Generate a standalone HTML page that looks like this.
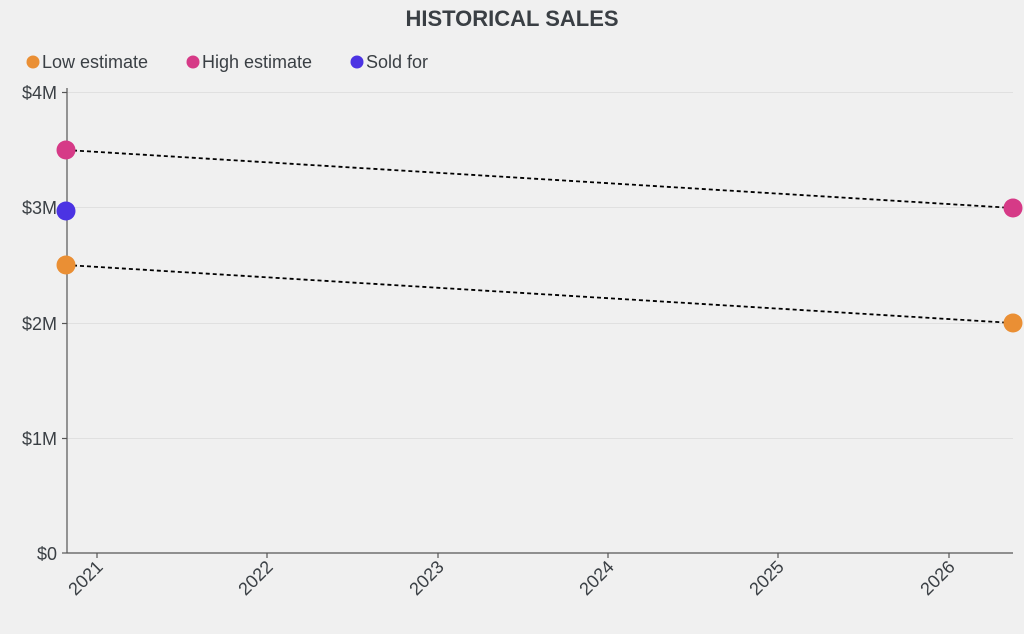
<!DOCTYPE html>
<html><head><style>
body{margin:0;background:#f0f0f0;}
svg{display:block;font-family:"Liberation Sans",sans-serif;}
</style></head><body>
<svg width="1024" height="634" viewBox="0 0 1024 634">
<rect width="1024" height="634" fill="#f0f0f0"/>
<text x="512" y="26" text-anchor="middle" font-size="22" font-weight="bold" fill="#3a3f44">HISTORICAL SALES</text>
<g font-size="18" fill="#3a3f44">
<circle cx="33" cy="62" r="6.5" fill="#ea8f34"/><text x="42" y="68">Low estimate</text>
<circle cx="193" cy="62" r="6.5" fill="#d63a87"/><text x="202" y="68">High estimate</text>
<circle cx="357" cy="62" r="6.5" fill="#4b33e3"/><text x="366" y="68">Sold for</text>
</g>
<g stroke="#e0e0e0" stroke-width="1">
<line x1="67" y1="92.5" x2="1013" y2="92.5"/>
<line x1="67" y1="207.5" x2="1013" y2="207.5"/>
<line x1="67" y1="323.5" x2="1013" y2="323.5"/>
<line x1="67" y1="438.5" x2="1013" y2="438.5"/>
</g>
<g stroke="#555" stroke-width="1.2">
<line x1="67" y1="88" x2="67" y2="553"/>
<line x1="67" y1="553" x2="1013" y2="553"/>
<line x1="62" y1="92.5" x2="67" y2="92.5"/>
<line x1="62" y1="207.5" x2="67" y2="207.5"/>
<line x1="62" y1="323.5" x2="67" y2="323.5"/>
<line x1="62" y1="438.5" x2="67" y2="438.5"/>
<line x1="62" y1="553" x2="67" y2="553"/>
<line x1="97" y1="553" x2="97" y2="558"/>
<line x1="267" y1="553" x2="267" y2="558"/>
<line x1="438" y1="553" x2="438" y2="558"/>
<line x1="608" y1="553" x2="608" y2="558"/>
<line x1="778" y1="553" x2="778" y2="558"/>
<line x1="949" y1="553" x2="949" y2="558"/>
</g>
<g font-size="18" fill="#3a3f44" text-anchor="end">
<text x="57" y="99">$4M</text>
<text x="57" y="214">$3M</text>
<text x="57" y="330">$2M</text>
<text x="57" y="445">$1M</text>
<text x="57" y="560">$0</text>
</g>
<g font-size="18" fill="#3a3f44" text-anchor="end">
<text transform="translate(104,568) rotate(-45)">2021</text>
<text transform="translate(274,568) rotate(-45)">2022</text>
<text transform="translate(445,568) rotate(-45)">2023</text>
<text transform="translate(615,568) rotate(-45)">2024</text>
<text transform="translate(785,568) rotate(-45)">2025</text>
<text transform="translate(956,568) rotate(-45)">2026</text>
</g>
<g stroke="#000" stroke-width="1.8" stroke-dasharray="4,3">
<line x1="66" y1="150" x2="1013" y2="208"/>
<line x1="66" y1="265" x2="1013" y2="323"/>
</g>
<circle cx="66" cy="150" r="9.5" fill="#d63a87"/>
<circle cx="66" cy="211" r="9.5" fill="#4b33e3"/>
<circle cx="66" cy="265" r="9.5" fill="#ea8f34"/>
<circle cx="1013" cy="208" r="9.5" fill="#d63a87"/>
<circle cx="1013" cy="323" r="9.5" fill="#ea8f34"/>
</svg>
</body></html>
